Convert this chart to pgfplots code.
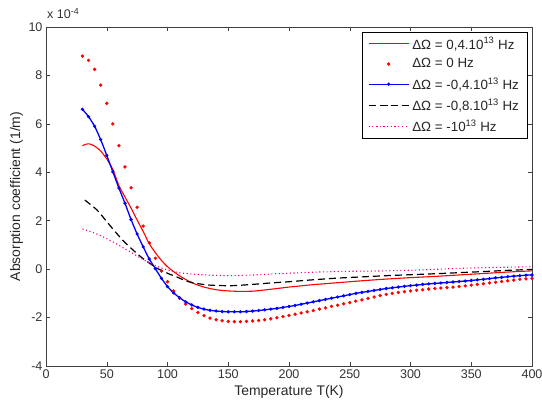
\documentclass[border=0pt]{standalone}
\usepackage{pgfplots}
\pgfplotsset{compat=1.18}
\usepackage{pgfplotstable}
\usepackage{fontspec}
\setmainfont{Liberation Sans}

\pgfplotstableread{
T v
30 5.10
33 5.16
36 5.17
40 5.08
45 4.88
50 4.55
55 4.12
60 3.45
65 2.98
70 2.52
75 2.03
80 1.55
85 1.05
90 0.68
95 0.36
100 0.10
105 -0.10
110 -0.28
115 -0.43
120 -0.56
125 -0.66
130 -0.74
135 -0.80
140 -0.85
145 -0.88
150 -0.90
160 -0.92
170 -0.91
180 -0.86
190 -0.80
200 -0.74
210 -0.69
220 -0.64
240 -0.56
260 -0.48
280 -0.41
300 -0.35
320 -0.30
340 -0.24
360 -0.18
380 -0.12
400 -0.07
}\redline

\pgfplotstableread{
T v
30 8.80
35 8.62
40 8.25
45 7.60
50 6.85
55 6.00
60 5.10
65 4.22
70 3.36
75 2.56
80 1.78
85 1.08
90 0.45
95 -0.08
100 -0.52
105 -0.90
110 -1.20
115 -1.44
120 -1.63
125 -1.79
130 -1.92
135 -2.02
140 -2.09
145 -2.13
150 -2.16
155 -2.17
160 -2.17
165 -2.16
170 -2.14
175 -2.12
180 -2.09
185 -2.05
190 -2.01
195 -1.96
200 -1.91
205 -1.86
210 -1.81
215 -1.76
220 -1.71
225 -1.65
230 -1.60
235 -1.54
240 -1.49
245 -1.43
250 -1.38
255 -1.32
260 -1.27
265 -1.21
270 -1.15
275 -1.09
280 -1.04
285 -1.00
290 -0.96
295 -0.93
300 -0.90
305 -0.87
310 -0.85
315 -0.82
320 -0.80
325 -0.78
330 -0.76
335 -0.74
340 -0.72
345 -0.69
350 -0.66
355 -0.63
360 -0.60
365 -0.57
370 -0.54
375 -0.51
380 -0.48
385 -0.45
390 -0.42
395 -0.40
400 -0.38
}\reddots

\pgfplotstableread{
T v
30 6.60
35 6.30
40 5.90
45 5.35
50 4.70
55 4.02
60 3.35
65 2.72
70 2.05
75 1.45
80 0.92
85 0.42
90 0.02
95 -0.38
100 -0.72
105 -0.98
110 -1.18
115 -1.35
120 -1.48
125 -1.58
130 -1.65
135 -1.70
140 -1.73
145 -1.75
150 -1.76
155 -1.76
160 -1.76
165 -1.75
170 -1.73
175 -1.71
180 -1.68
185 -1.65
190 -1.62
195 -1.58
200 -1.54
205 -1.50
210 -1.45
215 -1.40
220 -1.35
225 -1.30
230 -1.25
235 -1.20
240 -1.15
245 -1.10
250 -1.05
255 -1.00
260 -0.96
265 -0.92
270 -0.88
275 -0.84
280 -0.80
285 -0.77
290 -0.74
295 -0.71
300 -0.68
305 -0.66
310 -0.63
315 -0.61
320 -0.59
325 -0.57
330 -0.55
335 -0.53
340 -0.51
345 -0.49
350 -0.47
355 -0.44
360 -0.42
365 -0.39
370 -0.36
375 -0.34
380 -0.31
385 -0.29
390 -0.27
395 -0.25
400 -0.24
}\blueline

\pgfplotstableread{
T v
32 2.85
42 2.44
53 1.78
64 1.15
78 0.51
91 0.05
100 -0.17
108 -0.33
116 -0.50
125 -0.60
135 -0.66
145 -0.68
155 -0.68
170 -0.63
185 -0.57
200 -0.52
217 -0.45
240 -0.37
260 -0.32
280 -0.27
300 -0.23
320 -0.19
338 -0.15
360 -0.10
380 -0.05
400 -0.01
}\blackline

\pgfplotstableread{
T v
30 1.66
42 1.45
55 1.13
69 0.72
83 0.31
96 0.03
110 -0.15
125 -0.22
137 -0.25
152 -0.27
167 -0.25
185 -0.20
200 -0.17
217 -0.13
250 -0.09
280 -0.07
310 -0.03
338 0.03
370 0.07
400 0.10
}\magline

\begin{document}
\begin{tikzpicture}
\begin{axis}[
  scale only axis, width=486bp, height=339bp,
  xmin=0, xmax=400, ymin=-4, ymax=10,
  xtick={0,50,...,400}, ytick={-4,-2,...,10},
  xtick pos=both, ytick pos=both,
  tick align=inside, major tick length=4bp,
  axis line style={black!75, line width=0.6pt},
  every tick/.style={black!75, line width=0.5pt},
  /pgf/number format/assume math mode=true,
  tick label style={font=\fontsize{12.6}{14}\selectfont, text=black!80},
  xlabel={Temperature T(K)},
  xlabel style={font=\fontsize{14}{16}\selectfont, text=black!85, at={(axis description cs:0.5,0)}, anchor=north, inner sep=0pt, yshift=-19bp},
  legend style={at={(0.99,0.985)}, anchor=north east, draw=black, line width=0.5pt,
    fill=white, font=\fontsize{13.4}{15}\selectfont, text=black!85,
    row sep=4.1bp, inner xsep=6bp, inner ysep=3bp,
    /tikz/every odd column/.append style={column sep=1bp}},
  legend cell align=left,
  legend image code/.code={\draw[mark repeat=2,mark phase=2,#1] plot coordinates {(0bp,0bp) (20bp,0bp) (40bp,0bp)};},
]
\addplot[red, line width=1.1pt, smooth, tension=0.4] table[x=T,y=v] {\redline};
\addlegendentry{ΔΩ = 0,4.10\textsuperscript{13} Hz}
\addplot[red, only marks, mark=*, mark size=1.5pt] table[x=T,y=v] {\reddots};
\addlegendentry{ΔΩ = 0 Hz}
\addplot[blue, line width=1.3pt, mark=*, mark size=0.9pt, smooth, tension=0.4] table[x=T,y=v] {\blueline};
\addlegendentry{ΔΩ = -0,4.10\textsuperscript{13} Hz}
\addplot[black, line width=1.2pt, dash pattern=on 7bp off 4bp, smooth, tension=0.4] table[x=T,y=v] {\blackline};
\addlegendentry{ΔΩ = -0,8.10\textsuperscript{13} Hz}
\addplot[magenta, line width=1.1pt, dash pattern=on 1.1pt off 2.6pt, smooth, tension=0.4] table[x=T,y=v] {\magline};
\addlegendentry{ΔΩ = -10\textsuperscript{13} Hz}
\coordinate (ll) at (rel axis cs:0,0);
\coordinate (ur) at (rel axis cs:1,1);
\coordinate (ml) at (rel axis cs:0,0.5);
\end{axis}
\path (ll |- ur) ++(1bp,8bp) node[anchor=base west, inner sep=0pt, font=\fontsize{12.6}{14}\selectfont, text=black!80] {x 10\textsuperscript{-4}};
\node[rotate=90, inner sep=0pt, font=\fontsize{14}{16}\selectfont, text=black!85] at ([xshift=-29.5bp]ml) {Absorption coefficient (1/m)};
\pgfresetboundingbox
\useasboundingbox ([shift={(-46bp,-41bp)}]ll) rectangle ([shift={(10bp,27bp)}]ur);
\end{tikzpicture}
\end{document}
